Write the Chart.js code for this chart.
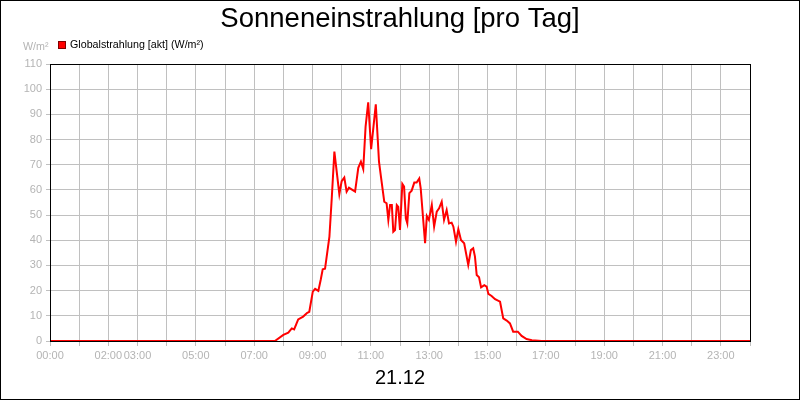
<!DOCTYPE html>
<html>
<head>
<meta charset="utf-8">
<script src="https://cdn.jsdelivr.net/npm/chart.js@4/dist/chart.umd.min.js"></script>
<style>
  body { margin: 0; background: #fff; }
  canvas { display: block; }
</style>
</head>
<body>
<canvas id="sunChart" width="800" height="400"></canvas>
<script>
// Zeit in Stunden (Dezimal) und Globalstrahlung in W/m²
const hours = [0, 7.71, 8.00, 8.17, 8.29, 8.37, 8.51, 8.68, 8.82, 8.89, 9.01, 9.09, 9.20, 9.28, 9.35, 9.43,
  9.58, 9.66, 9.75, 9.92, 10.00, 10.09, 10.17, 10.25, 10.34, 10.46, 10.57, 10.66, 10.74, 10.82, 10.91,
  11.01, 11.17, 11.28, 11.35, 11.46, 11.54, 11.60, 11.66, 11.72, 11.77, 11.83, 11.89, 11.94, 12.00, 12.08,
  12.14, 12.20, 12.25, 12.32, 12.40, 12.49, 12.57, 12.66, 12.71, 12.86, 12.92, 12.99, 13.09, 13.17, 13.26,
  13.34, 13.43, 13.51, 13.60, 13.68, 13.77, 13.83, 13.92, 14.00, 14.09, 14.20, 14.34, 14.43, 14.51, 14.57,
  14.63, 14.71, 14.78, 14.89, 14.97, 15.03, 15.14, 15.26, 15.43, 15.54, 15.66, 15.77, 15.88, 16.04, 16.17,
  16.34, 16.52, 16.86, 24];
const radiation = [0, 0, 2.4, 3.3, 5.0, 4.6, 8.6, 9.7, 11.2, 11.6, 19.6, 20.7, 19.9, 24.2, 28.5, 28.7,
  41.4, 56.7, 75.2, 58.3, 63.5, 64.9, 59.3, 60.9, 60.2, 59.3, 68.8, 71.2, 68.3, 85.1, 94.8,
  76.2, 94.0, 71.2, 65.0, 55.3, 54.7, 48.1, 54.0, 54.0, 43.4, 44.1, 54.0, 53.3, 44.1, 62.4,
  61.3, 48.7, 46.7, 58.7, 59.7, 62.9, 62.9, 64.5, 60.6, 38.8, 49.6, 48.1, 54.0, 45.4, 51.4,
  52.7, 55.3, 48.1, 52.0, 46.7, 47.0, 45.4, 39.4, 44.4, 40.1, 38.8, 30.2, 36.1, 36.8, 33.5,
  26.2, 25.3, 21.3, 22.2, 21.6, 18.7, 17.9, 16.6, 15.6, 9.0, 8.1, 7.0, 3.7, 3.7, 2.0,
  0.8, 0.3, 0, 0];
const xLabelHours = [0, 2, 3, 5, 7, 9, 11, 13, 15, 17, 19, 21, 23];
const yMax = 110;

const chartTitle = 'Sonneneinstrahlung [pro Tag]';
const seriesLabel = 'Globalstrahlung [akt] (W/m²)';
const unitLabel = 'W/m²';
const dateLabel = '21.12';

const FONT = '"Liberation Sans", Arial, sans-serif';
const GRID = '#c0c0c0';
const TICK_TEXT = '#b4b4b4';

// Titel, Legende, Einheit, Datum und Rahmen
const decorations = {
  id: 'decorations',
  afterDraw(chart) {
    const ctx = chart.ctx;
    const a = chart.chartArea;
    ctx.save();
    ctx.textBaseline = 'middle';

    ctx.fillStyle = '#000';
    ctx.font = '27.5px ' + FONT;
    ctx.textAlign = 'center';
    ctx.fillText(chartTitle, 400, 19);

    ctx.fillStyle = '#ff0000';
    ctx.fillRect(58, 41, 8, 8);
    ctx.strokeStyle = '#800000';
    ctx.lineWidth = 1;
    ctx.strokeRect(58.5, 41.5, 7, 7);
    ctx.fillStyle = '#000';
    ctx.font = '10.7px ' + FONT;
    ctx.textAlign = 'left';
    ctx.fillText(seriesLabel, 70, 45);

    ctx.fillStyle = TICK_TEXT;
    ctx.fillText(unitLabel, 23, 47);

    ctx.fillStyle = '#000';
    ctx.font = '20px ' + FONT;
    ctx.textAlign = 'center';
    ctx.fillText(dateLabel, 400, 378);

    ctx.strokeStyle = '#000';
    ctx.strokeRect(Math.round(a.left) + 0.5, Math.round(a.top) + 0.5,
      Math.round(a.right - a.left), Math.round(a.bottom - a.top));
    ctx.strokeRect(0.5, 0.5, 799, 399);
    ctx.restore();
  }
};

new Chart(document.getElementById('sunChart'), {
  type: 'line',
  data: {
    datasets: [{
      label: seriesLabel,
      data: hours.map((h, i) => ({ x: h, y: radiation[i] })),
      borderColor: '#ff0000',
      borderWidth: 2,
      pointRadius: 0,
      tension: 0,
      fill: false
    }]
  },
  options: {
    responsive: false,
    animation: false,
    devicePixelRatio: 1,
    layout: { padding: { top: 64, right: 50, bottom: 0, left: 0 } },
    plugins: {
      legend: { display: false },
      title: { display: false },
      tooltip: { enabled: false }
    },
    scales: {
      x: {
        type: 'linear',
        min: 0,
        max: 24,
        afterFit: (scale) => { scale.height = 59; },
        ticks: {
          stepSize: 1,
          autoSkip: false,
          maxRotation: 0,
          color: TICK_TEXT,
          padding: 3,
          font: { family: FONT, size: 11 },
          callback: (v) => xLabelHours.includes(v) ? String(v).padStart(2, '0') + ':00' : ''
        },
        grid: { color: GRID, tickLength: 5 },
        border: { color: '#000' }
      },
      y: {
        min: 0,
        max: yMax,
        afterFit: (scale) => { scale.width = 50; },
        ticks: {
          stepSize: 10,
          color: TICK_TEXT,
          padding: 4,
          font: { family: FONT, size: 11 }
        },
        grid: { color: GRID, tickLength: 4 },
        border: { color: '#000' }
      }
    }
  },
  plugins: [decorations]
});
</script>
</body>
</html>
